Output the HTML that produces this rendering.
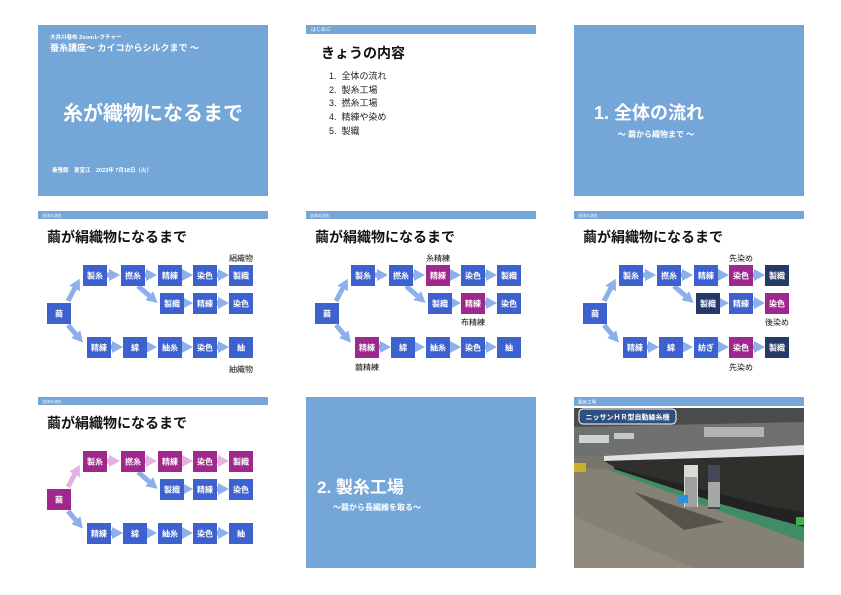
<!DOCTYPE html>
<html><head><meta charset="utf-8"><style>
body{margin:0;width:841px;height:595px;background:#fff;position:relative;overflow:hidden;font-family:"Liberation Sans","Noto Sans CJK JP",sans-serif}
.s{position:absolute;width:230px;height:171px}
.t{position:absolute;white-space:nowrap}
svg text{font-family:"Liberation Sans","Noto Sans CJK JP",sans-serif}
</style></head><body>

<div class="s" style="left:38px;top:25px;background:#74a6d8;color:#fff">
<div class="t" style="left:12px;top:8px;font-size:5.5px;font-weight:bold">大井川巷布 Zoomレクチャー</div>
<div class="t" style="left:12px;top:16px;font-size:9px;font-weight:bold">蚕糸講座〜 カイコからシルクまで 〜</div>
<div class="t" style="left:0;width:230px;text-align:center;top:72px;font-size:20px;font-weight:bold">糸が織物になるまで</div>
<div class="t" style="left:14px;top:141px;font-size:5.5px;font-weight:bold">養蚕館　東宣江　2023年 7月18日（火）</div>
</div>

<div class="s" style="left:306px;top:25px">
<div style="position:absolute;left:0;top:0;width:230px;height:9px;background:#74a6d8"></div>
<div class="t" style="left:5px;top:1px;font-size:5px;color:#fff">はじめに</div>
<div class="t" style="left:15px;top:18px;font-size:14px;font-weight:bold;color:#111">きょうの内容</div>
<div class="t" style="left:23px;top:45px;font-size:9px;line-height:13.7px;color:#222">1.&nbsp; 全体の流れ<br>2.&nbsp; 製糸工場<br>3.&nbsp; 撚糸工場<br>4.&nbsp; 精練や染め<br>5.&nbsp; 製織</div>
</div>

<div class="s" style="left:574px;top:25px;background:#74a6d8;color:#fff">
<div class="t" style="left:20px;top:74px;font-size:18px;font-weight:bold">1. 全体の流れ</div>
<div class="t" style="left:40px;width:84px;text-align:center;top:104px;font-size:8px;font-weight:bold">〜 繭から織物まで 〜</div>
</div>

<svg class="s" style="left:38px;top:211px" viewBox="0 0 230 171">
<defs><marker id="a1" markerUnits="userSpaceOnUse" markerWidth="12" markerHeight="12" refX="5" refY="6" orient="auto"><path d="M0,0L11,6L0,12z" fill="#8eb0ea"/></marker></defs>
<rect width="230" height="8" fill="#74a6d8"/><text x="4" y="6" font-size="4" fill="#fff">全体の流れ</text>
<text x="9" y="31" font-size="14" font-weight="bold" fill="#111">繭が絹織物になるまで</text>
<g stroke="#8eb0ea" stroke-width="5" marker-end="url(#a1)">
<line x1="30" y1="90" x2="39" y2="73"/><line x1="30" y1="114" x2="41" y2="127"/>
<line x1="68" y1="64" x2="76" y2="64"/><line x1="106" y1="64" x2="113" y2="64"/><line x1="143" y1="64" x2="149" y2="64"/><line x1="178" y1="64" x2="185" y2="64"/>
<line x1="100" y1="75" x2="115" y2="88"/><line x1="145" y1="92" x2="149" y2="92"/><line x1="178" y1="92" x2="185" y2="92"/>
<line x1="72" y1="136" x2="79" y2="136"/><line x1="108" y1="136" x2="113" y2="136"/><line x1="143" y1="136" x2="149" y2="136"/><line x1="178" y1="136" x2="185" y2="136"/>
</g>
<g fill="#3d62d0"><rect x="9" y="92" width="24" height="21"/><rect x="45" y="54" width="24" height="21"/><rect x="83" y="54" width="24" height="21"/><rect x="120" y="54" width="24" height="21"/><rect x="155" y="54" width="24" height="21"/><rect x="191" y="54" width="24" height="21"/><rect x="122" y="82" width="24" height="21"/><rect x="155" y="82" width="24" height="21"/><rect x="191" y="82" width="24" height="21"/><rect x="49" y="126" width="24" height="21"/><rect x="85" y="126" width="24" height="21"/><rect x="120" y="126" width="24" height="21"/><rect x="155" y="126" width="24" height="21"/><rect x="191" y="126" width="24" height="21"/></g>
<g fill="#fff" font-size="8" font-weight="bold" text-anchor="middle"><text x="21" y="105.5">繭</text><text x="57" y="67.5">製糸</text><text x="95" y="67.5">撚糸</text><text x="132" y="67.5">精練</text><text x="167" y="67.5">染色</text><text x="203" y="67.5">製織</text><text x="134" y="95.5">製織</text><text x="167" y="95.5">精練</text><text x="203" y="95.5">染色</text><text x="61" y="139.5">精練</text><text x="97" y="139.5">綿</text><text x="132" y="139.5">紬糸</text><text x="167" y="139.5">染色</text><text x="203" y="139.5">紬</text></g>
<g font-size="8" fill="#111" text-anchor="middle"><text x="203" y="50">絹織物</text><text x="203" y="161">紬織物</text></g>
</svg>

<svg class="s" style="left:306px;top:211px" viewBox="0 0 230 171">
<defs><marker id="a2" markerUnits="userSpaceOnUse" markerWidth="12" markerHeight="12" refX="5" refY="6" orient="auto"><path d="M0,0L11,6L0,12z" fill="#8eb0ea"/></marker></defs>
<rect width="230" height="8" fill="#74a6d8"/><text x="4" y="6" font-size="4" fill="#fff">全体の流れ</text>
<text x="9" y="31" font-size="14" font-weight="bold" fill="#111">繭が絹織物になるまで</text>
<g stroke="#8eb0ea" stroke-width="5" marker-end="url(#a2)">
<line x1="30" y1="90" x2="39" y2="73"/><line x1="30" y1="114" x2="41" y2="127"/>
<line x1="68" y1="64" x2="76" y2="64"/><line x1="106" y1="64" x2="113" y2="64"/><line x1="143" y1="64" x2="149" y2="64"/><line x1="178" y1="64" x2="185" y2="64"/>
<line x1="100" y1="75" x2="115" y2="88"/><line x1="145" y1="92" x2="149" y2="92"/><line x1="178" y1="92" x2="185" y2="92"/>
<line x1="72" y1="136" x2="79" y2="136"/><line x1="108" y1="136" x2="113" y2="136"/><line x1="143" y1="136" x2="149" y2="136"/><line x1="178" y1="136" x2="185" y2="136"/>
</g>
<g fill="#3d62d0"><rect x="9" y="92" width="24" height="21"/><rect x="45" y="54" width="24" height="21"/><rect x="83" y="54" width="24" height="21"/><rect x="155" y="54" width="24" height="21"/><rect x="191" y="54" width="24" height="21"/><rect x="122" y="82" width="24" height="21"/><rect x="191" y="82" width="24" height="21"/><rect x="85" y="126" width="24" height="21"/><rect x="120" y="126" width="24" height="21"/><rect x="155" y="126" width="24" height="21"/><rect x="191" y="126" width="24" height="21"/></g>
<g fill="#a0288c"><rect x="120" y="54" width="24" height="21"/><rect x="155" y="82" width="24" height="21"/><rect x="49" y="126" width="24" height="21"/></g>
<g fill="#fff" font-size="8" font-weight="bold" text-anchor="middle"><text x="21" y="105.5">繭</text><text x="57" y="67.5">製糸</text><text x="95" y="67.5">撚糸</text><text x="132" y="67.5">精練</text><text x="167" y="67.5">染色</text><text x="203" y="67.5">製織</text><text x="134" y="95.5">製織</text><text x="167" y="95.5">精練</text><text x="203" y="95.5">染色</text><text x="61" y="139.5">精練</text><text x="97" y="139.5">綿</text><text x="132" y="139.5">紬糸</text><text x="167" y="139.5">染色</text><text x="203" y="139.5">紬</text></g>
<g font-size="8" fill="#111" text-anchor="middle"><text x="132" y="50">糸精練</text><text x="167" y="114">布精練</text><text x="61" y="159">繭精練</text></g>
</svg>

<svg class="s" style="left:574px;top:211px" viewBox="0 0 230 171">
<defs><marker id="a3" markerUnits="userSpaceOnUse" markerWidth="12" markerHeight="12" refX="5" refY="6" orient="auto"><path d="M0,0L11,6L0,12z" fill="#8eb0ea"/></marker></defs>
<rect width="230" height="8" fill="#74a6d8"/><text x="4" y="6" font-size="4" fill="#fff">全体の流れ</text>
<text x="9" y="31" font-size="14" font-weight="bold" fill="#111">繭が絹織物になるまで</text>
<g stroke="#8eb0ea" stroke-width="5" marker-end="url(#a3)">
<line x1="30" y1="90" x2="39" y2="73"/><line x1="30" y1="114" x2="41" y2="127"/>
<line x1="68" y1="64" x2="76" y2="64"/><line x1="106" y1="64" x2="113" y2="64"/><line x1="143" y1="64" x2="149" y2="64"/><line x1="178" y1="64" x2="185" y2="64"/>
<line x1="100" y1="75" x2="115" y2="88"/><line x1="145" y1="92" x2="149" y2="92"/><line x1="178" y1="92" x2="185" y2="92"/>
<line x1="72" y1="136" x2="79" y2="136"/><line x1="108" y1="136" x2="113" y2="136"/><line x1="143" y1="136" x2="149" y2="136"/><line x1="178" y1="136" x2="185" y2="136"/>
</g>
<g fill="#3d62d0"><rect x="9" y="92" width="24" height="21"/><rect x="45" y="54" width="24" height="21"/><rect x="83" y="54" width="24" height="21"/><rect x="120" y="54" width="24" height="21"/><rect x="155" y="82" width="24" height="21"/><rect x="49" y="126" width="24" height="21"/><rect x="85" y="126" width="24" height="21"/><rect x="120" y="126" width="24" height="21"/></g>
<g fill="#a0288c"><rect x="155" y="54" width="24" height="21"/><rect x="191" y="82" width="24" height="21"/><rect x="155" y="126" width="24" height="21"/></g>
<g fill="#25386a"><rect x="191" y="54" width="24" height="21"/><rect x="122" y="82" width="24" height="21"/><rect x="191" y="126" width="24" height="21"/></g>
<g fill="#fff" font-size="8" font-weight="bold" text-anchor="middle"><text x="21" y="105.5">繭</text><text x="57" y="67.5">製糸</text><text x="95" y="67.5">撚糸</text><text x="132" y="67.5">精練</text><text x="167" y="67.5">染色</text><text x="203" y="67.5">製織</text><text x="134" y="95.5">製織</text><text x="167" y="95.5">精練</text><text x="203" y="95.5">染色</text><text x="61" y="139.5">精練</text><text x="97" y="139.5">綿</text><text x="132" y="139.5">紡ぎ</text><text x="167" y="139.5">染色</text><text x="203" y="139.5">製織</text></g>
<g font-size="8" fill="#111" text-anchor="middle"><text x="167" y="50">先染め</text><text x="203" y="114">後染め</text><text x="167" y="159">先染め</text></g>
</svg>

<svg class="s" style="left:38px;top:397px" viewBox="0 0 230 171">
<defs><marker id="a4" markerUnits="userSpaceOnUse" markerWidth="12" markerHeight="12" refX="5" refY="6" orient="auto"><path d="M0,0L11,6L0,12z" fill="#8eb0ea"/></marker><marker id="p4" markerUnits="userSpaceOnUse" markerWidth="12" markerHeight="12" refX="5" refY="6" orient="auto"><path d="M0,0L11,6L0,12z" fill="#e2b3df"/></marker></defs>
<rect width="230" height="8" fill="#74a6d8"/><text x="4" y="6" font-size="4" fill="#fff">全体の流れ</text>
<text x="9" y="31" font-size="14" font-weight="bold" fill="#111">繭が絹織物になるまで</text>
<g stroke="#e2b3df" stroke-width="5" marker-end="url(#p4)">
<line x1="30" y1="90" x2="39" y2="73"/>
<line x1="68" y1="64" x2="76" y2="64"/><line x1="106" y1="64" x2="113" y2="64"/><line x1="143" y1="64" x2="149" y2="64"/><line x1="178" y1="64" x2="185" y2="64"/>
</g>
<g stroke="#8eb0ea" stroke-width="5" marker-end="url(#a4)">
<line x1="30" y1="114" x2="41" y2="127"/>
<line x1="100" y1="75" x2="115" y2="88"/><line x1="145" y1="92" x2="149" y2="92"/><line x1="178" y1="92" x2="185" y2="92"/>
<line x1="72" y1="136" x2="79" y2="136"/><line x1="108" y1="136" x2="113" y2="136"/><line x1="143" y1="136" x2="149" y2="136"/><line x1="178" y1="136" x2="185" y2="136"/>
</g>
<g fill="#a0288c"><rect x="9" y="92" width="24" height="21"/><rect x="45" y="54" width="24" height="21"/><rect x="83" y="54" width="24" height="21"/><rect x="120" y="54" width="24" height="21"/><rect x="155" y="54" width="24" height="21"/><rect x="191" y="54" width="24" height="21"/></g>
<g fill="#3d62d0"><rect x="122" y="82" width="24" height="21"/><rect x="155" y="82" width="24" height="21"/><rect x="191" y="82" width="24" height="21"/><rect x="49" y="126" width="24" height="21"/><rect x="85" y="126" width="24" height="21"/><rect x="120" y="126" width="24" height="21"/><rect x="155" y="126" width="24" height="21"/><rect x="191" y="126" width="24" height="21"/></g>
<g fill="#fff" font-size="8" font-weight="bold" text-anchor="middle"><text x="21" y="105.5">繭</text><text x="57" y="67.5">製糸</text><text x="95" y="67.5">撚糸</text><text x="132" y="67.5">精練</text><text x="167" y="67.5">染色</text><text x="203" y="67.5">製織</text><text x="134" y="95.5">製織</text><text x="167" y="95.5">精練</text><text x="203" y="95.5">染色</text><text x="61" y="139.5">精練</text><text x="97" y="139.5">綿</text><text x="132" y="139.5">紬糸</text><text x="167" y="139.5">染色</text><text x="203" y="139.5">紬</text></g>
</svg>

<div class="s" style="left:306px;top:397px;background:#74a6d8;color:#fff">
<div class="t" style="left:11px;top:76px;font-size:17px;font-weight:bold">2. 製糸工場</div>
<div class="t" style="left:27px;top:105px;font-size:8px;font-weight:bold">〜繭から長繊維を取る〜</div>
</div>

<svg class="s" style="left:574px;top:397px" viewBox="0 0 230 171">
<rect width="230" height="171" fill="#fff"/>
<rect y="0" width="230" height="9" fill="#74a6d8"/><text x="4" y="6.5" font-size="4.5" fill="#fff">製糸工場</text>
<rect x="0" y="11" width="230" height="160" fill="#77746a"/>
<rect x="0" y="11" width="230" height="48" fill="#6f716f"/>
<path d="M0,11H230V25L0,30Z" fill="#4a4c4c"/>
<rect x="5" y="38" width="30" height="8" fill="#cfd2d3"/><rect x="40" y="36" width="20" height="6" fill="#c5c8c9"/><rect x="130" y="30" width="60" height="10" fill="#b0b3b2"/>
<path d="M30,59L230,48V58L30,64Z" fill="#dfe2e3"/>
<path d="M30,64L230,58V115L200,110L40,70Z" fill="#2f302c"/>
<path d="M40,70L200,110L230,115V130L150,108L40,72Z" fill="#222"/>
<path d="M40,72L150,108L230,130V145L35,73Z" fill="#3f8d66"/>
<path d="M0,70L35,73L230,145V171H0Z" fill="#858174"/>
<path d="M0,120L120,171H0Z" fill="#8f8b7c"/>
<path d="M60,95L150,125L110,133Z" fill="#55524a"/>
<rect x="0" y="66" width="12" height="9" fill="#c9b22a"/>
<rect x="110" y="68" width="14" height="42" fill="#d8dad8"/><rect x="111" y="80" width="12" height="30" fill="#9fa1a0"/>
<rect x="134" y="68" width="12" height="44" fill="#44495a"/><rect x="134" y="85" width="12" height="25" fill="#a6a8a5"/>
<rect x="104" y="98" width="10" height="8" fill="#2f8fd6"/>
<rect x="222" y="120" width="8" height="8" fill="#3cb04c"/>
<rect x="5" y="12" width="97" height="15" rx="4" fill="#2e4f80" stroke="#fff" stroke-width="1"/>
<text x="53.5" y="22.5" font-size="7" font-weight="bold" fill="#fff" text-anchor="middle">ニッサンＨＲ型自動繰糸機</text>
</svg>

</body></html>
